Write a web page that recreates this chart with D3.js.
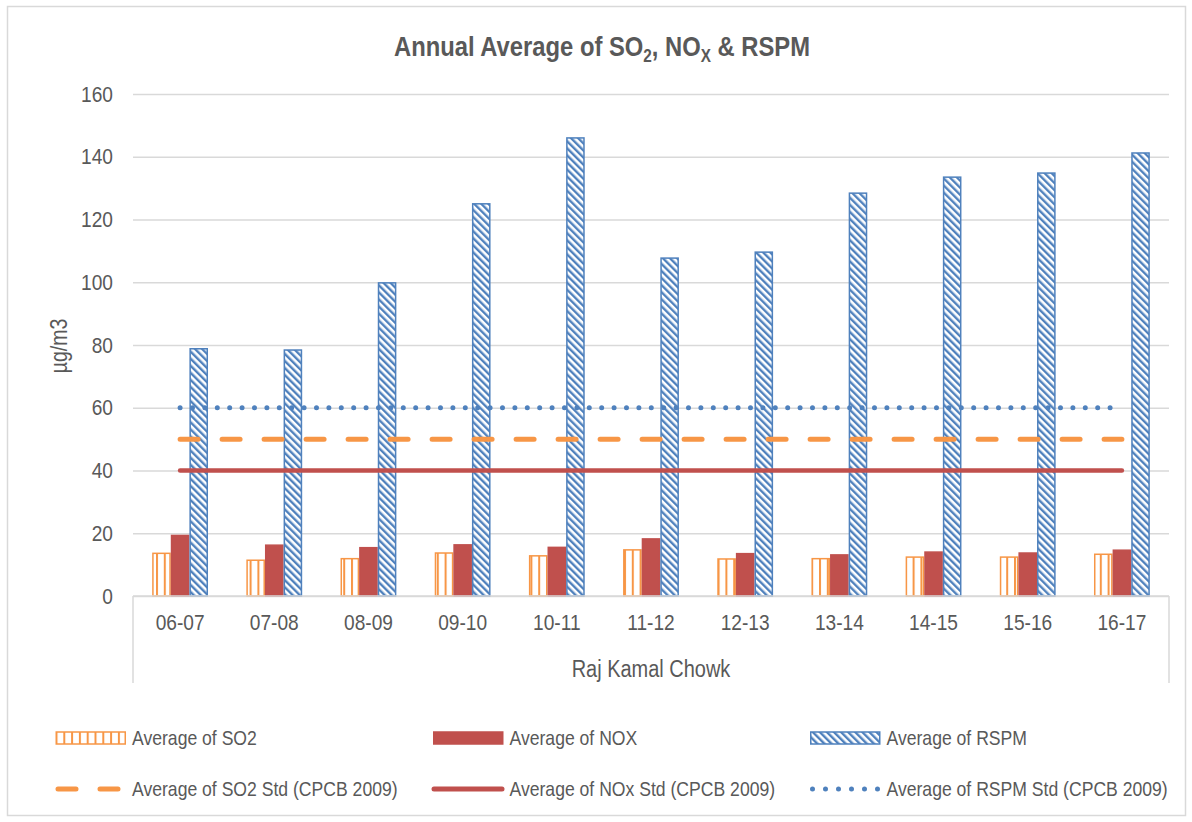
<!DOCTYPE html>
<html>
<head>
<meta charset="utf-8">
<script src="https://cdn.jsdelivr.net/npm/d3@7"></script>
<style>
  body { margin: 0; background: #fff; }
  svg { font-family: "Liberation Sans Narrow", "Arial Narrow", "Liberation Sans", Arial, sans-serif; }
</style>
</head>
<body>
<div id="chart"></div>
<script>
var categories = ['06-07', '07-08', '08-09', '09-10', '10-11', '11-12', '12-13', '13-14', '14-15', '15-16', '16-17'];
var so2 = [13.6, 11.4, 11.9, 13.7, 12.8, 14.7, 11.8, 11.9, 12.4, 12.4, 13.3];
var nox = [19.3, 16.2, 15.4, 16.3, 15.5, 18.2, 13.5, 13.1, 14.0, 13.7, 14.6];
var rspm = [78.8, 78.4, 99.8, 125.0, 146.0, 107.7, 109.6, 128.4, 133.5, 134.8, 141.2];
var so2Std = [50, 50, 50, 50, 50, 50, 50, 50, 50, 50, 50];
var noxStd = [40, 40, 40, 40, 40, 40, 40, 40, 40, 40, 40];
var rspmStd = [60, 60, 60, 60, 60, 60, 60, 60, 60, 60, 60];
var yTicks = [0, 20, 40, 60, 80, 100, 120, 140, 160];
var seriesNames = ['so2', 'nox', 'rspm'];

var ORANGE = '#F79646';
var RED = '#C0504D';
var BLUE = '#4F81BD';
var TEXT = '#595959';
var GRID = '#d9d9d9';
var NARROW = 0.85; // no narrow font installed, so squeeze the regular one

var width = 1192;
var height = 822;
var plotLeft = 133, plotRight = 1169, plotTop = 94, plotBottom = 596;

var svg = d3.select('#chart')
  .append('svg')
  .attr('width', width)
  .attr('height', height);

// patterns for the bars
var defs = svg.append('defs');

var pSo2 = defs.append('pattern')
  .attr('id', 'pat-so2')
  .attr('patternUnits', 'userSpaceOnUse')
  .attr('width', 7.8)
  .attr('height', 10);
pSo2.append('rect').attr('width', 7.8).attr('height', 10).attr('fill', '#fff');
pSo2.append('rect').attr('x', 0).attr('width', 2).attr('height', 10).attr('fill', ORANGE);

var pRspm = defs.append('pattern')
  .attr('id', 'pat-rspm')
  .attr('patternUnits', 'userSpaceOnUse')
  .attr('width', 5)
  .attr('height', 10)
  .attr('patternTransform', 'rotate(-45)');
pRspm.append('rect').attr('width', 5).attr('height', 10).attr('fill', '#fff');
pRspm.append('rect').attr('x', 0).attr('width', 2.4).attr('height', 10).attr('fill', BLUE);

// outer frame
svg.append('rect')
  .attr('x', 7.5).attr('y', 6.5)
  .attr('width', 1178).attr('height', 809)
  .attr('fill', 'none')
  .attr('stroke', GRID)
  .attr('stroke-width', 1.5);

var xScale = d3.scaleBand()
  .domain(categories)
  .range([plotLeft, plotRight])
  .padding(0);

var xSub = d3.scaleBand()
  .domain(seriesNames)
  .range([0, xScale.bandwidth()])
  .paddingInner(0)
  .paddingOuter(1.03);

var yScale = d3.scaleLinear()
  .domain([0, 160])
  .range([plotBottom, plotTop]);

function addText(parent, x, y, size, str) {
  return parent.append('text')
    .attr('transform', 'translate(' + x + ',' + y + ') scale(' + NARROW + ',1)')
    .attr('font-size', size)
    .attr('fill', TEXT)
    .text(str);
}

// gridlines
var grid = svg.append('g')
  .attr('transform', 'translate(' + plotLeft + ',0)')
  .call(d3.axisLeft(yScale).tickValues(yTicks).tickSize(-(plotRight - plotLeft)).tickFormat(''));
grid.select('.domain').remove();
grid.selectAll('line').attr('stroke', GRID).attr('stroke-width', 1.5);

// y axis labels
var yAxis = svg.append('g')
  .attr('transform', 'translate(' + 113 + ',0)')
  .call(d3.axisLeft(yScale).tickValues(yTicks).tickSize(0).tickPadding(0));
yAxis.select('.domain').remove();
yAxis.attr('font-family', null);
yAxis.selectAll('text')
  .attr('fill', TEXT)
  .attr('font-size', 22.5)
  .attr('transform', 'scale(' + NARROW + ',1)');

// bars
var bars = svg.append('g');
var seriesData = { so2: so2, nox: nox, rspm: rspm };
var fills = { so2: 'url(#pat-so2)', nox: RED, rspm: 'url(#pat-rspm)' };
var strokes = { so2: ORANGE, nox: RED, rspm: BLUE };

seriesNames.forEach(function(name) {
  bars.selectAll('rect.' + name)
    .data(seriesData[name])
    .enter()
    .append('rect')
    .attr('class', name)
    .attr('x', function(value, index) {
      return xScale(categories[index]) + xSub(name) + 0.75;
    })
    .attr('y', function(value) {
      return yScale(value);
    })
    .attr('width', xSub.bandwidth() - 1.5)
    .attr('height', function(value) {
      return yScale(0) - yScale(value);
    })
    .attr('fill', fills[name])
    .attr('stroke', strokes[name])
    .attr('stroke-width', 1.5);
});

// category axis box
var axisBox = svg.append('g').attr('stroke', GRID).attr('stroke-width', 1.5);
axisBox.append('line').attr('x1', plotLeft).attr('x2', plotRight).attr('y1', plotBottom).attr('y2', plotBottom);
axisBox.append('line').attr('x1', plotLeft).attr('x2', plotLeft).attr('y1', plotBottom).attr('y2', 683);
axisBox.append('line').attr('x1', plotRight).attr('x2', plotRight).attr('y1', plotBottom).attr('y2', 683);

var xAxis = svg.append('g')
  .attr('transform', 'translate(0,' + plotBottom + ')')
  .call(d3.axisBottom(xScale).tickSize(0).tickPadding(18));
xAxis.select('.domain').remove();
xAxis.attr('font-family', null);
xAxis.selectAll('text')
  .attr('fill', TEXT)
  .attr('font-size', 22.5)
  .attr('transform', 'scale(' + NARROW + ',1)');

// standard lines
var lineGen = function(values) {
  return d3.line()
    .x(function(v, i) { return xScale(categories[i]) + xScale.bandwidth() / 2; })
    .y(function(v) { return yScale(v); })(values);
};

svg.append('path')
  .attr('d', lineGen(noxStd))
  .attr('fill', 'none')
  .attr('stroke', RED)
  .attr('stroke-width', 4.5)
  .attr('stroke-linecap', 'round');

svg.append('path')
  .attr('d', lineGen(so2Std))
  .attr('fill', 'none')
  .attr('stroke', ORANGE)
  .attr('stroke-width', 5)
  .attr('stroke-linecap', 'round')
  .attr('stroke-dasharray', '18 24');

svg.append('path')
  .attr('d', lineGen(rspmStd))
  .attr('fill', 'none')
  .attr('stroke', BLUE)
  .attr('stroke-width', 5)
  .attr('stroke-linecap', 'round')
  .attr('stroke-dasharray', '0 12.4');

// title
var title = addText(svg, 602, 56, 28, '')
  .attr('text-anchor', 'middle')
  .attr('font-weight', 'bold');
title.append('tspan').text('Annual Average of SO');
title.append('tspan').attr('font-size', 18).attr('dy', 6).text('2');
title.append('tspan').attr('dy', -6).text(', NO');
title.append('tspan').attr('font-size', 18).attr('dy', 6).text('X');
title.append('tspan').attr('dy', -6).text(' & RSPM');

// axis titles
addText(svg, 67, 346, 23, 'µg/m3')
  .attr('transform', 'translate(67,346) rotate(-90) scale(' + NARROW + ',1)')
  .attr('text-anchor', 'middle');

addText(svg, 651, 677, 23.5, 'Raj Kamal Chowk')
  .attr('text-anchor', 'middle');

// legend
var legendItems = [
  { label: 'Average of SO2', type: 'bar', fill: 'url(#pat-so2)', stroke: ORANGE, x: 55.5, y: 738 },
  { label: 'Average of NOX', type: 'bar', fill: RED, stroke: RED, x: 433, y: 738 },
  { label: 'Average of RSPM', type: 'bar', fill: 'url(#pat-rspm)', stroke: BLUE, x: 810, y: 738 },
  { label: 'Average of SO2 Std (CPCB 2009)', type: 'line', stroke: ORANGE, dash: '18 24', x1: 2.5, x2: 67, x: 55.5, y: 789 },
  { label: 'Average of NOx Std (CPCB 2009)', type: 'line', stroke: RED, dash: null, x1: 1, x2: 69, x: 433, y: 789 },
  { label: 'Average of RSPM Std (CPCB 2009)', type: 'line', stroke: BLUE, dash: '0 13', x1: 2.5, x2: 68, x: 810, y: 789 }
];

var legend = svg.append('g');
legendItems.forEach(function(item) {
  var g = legend.append('g').attr('transform', 'translate(' + item.x + ',' + item.y + ')');
  if (item.type == 'bar') {
    g.append('rect')
      .attr('x', 0.75).attr('y', -6)
      .attr('width', 69).attr('height', 12)
      .attr('fill', item.fill)
      .attr('stroke', item.stroke)
      .attr('stroke-width', 1.5);
  } else {
    g.append('line')
      .attr('x1', item.x1).attr('x2', item.x2)
      .attr('y1', 0).attr('y2', 0)
      .attr('stroke', item.stroke)
      .attr('stroke-width', 5)
      .attr('stroke-linecap', 'round')
      .attr('stroke-dasharray', item.dash);
  }
  addText(g, 76.5, 0, 20.7, item.label)
    .attr('dy', '0.35em');
});
</script>
</body>
</html>
